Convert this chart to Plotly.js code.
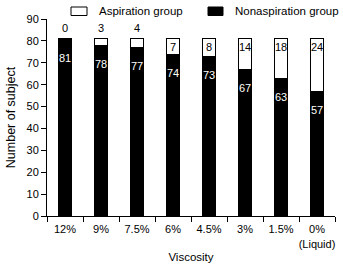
<!DOCTYPE html>
<html><head>
<script src="https://cdn.plot.ly/plotly-3.0.1.min.js"></script>
<style>body{margin:0;background:#fff}</style>
</head>
<body>
<div id="chart" style="width:343px;height:266px"></div>
<script>
const categories = ['12%', '9%', '7.5%', '6%', '4.5%', '3%', '1.5%', '0%<br>(Liquid)'];
const aspiration = [0, 3, 4, 7, 8, 14, 18, 24];
const nonaspiration = [81, 78, 77, 74, 73, 67, 63, 57];
const yTickVals = [0, 10, 20, 30, 40, 50, 60, 70, 80, 90];
const legendNames = ['Aspiration group', 'Nonaspiration group'];
const legendFills = ['#fff', '#000'];

const FONT = 'Liberation Sans, Arial, sans-serif';
const W = 343, H = 266;
const M = {l: 47, r: 8, t: 19, b: 50};
const plotW = W - M.l - M.r, plotH = H - M.t - M.b;
const yMax = 90;
const px2x = px => (px - M.l) / plotW;
const px2y = py => (H - M.b - py) / plotH;

const traces = [
  {
    type: 'bar', name: legendNames[1], x: categories, y: nonaspiration,
    marker: {color: legendFills[1], line: {color: '#000', width: 1}}, width: 0.37,
    hoverinfo: 'skip'
  },
  {
    type: 'bar', name: legendNames[0], x: categories, y: aspiration,
    marker: {color: legendFills[0], line: {color: '#000', width: 1}}, width: 0.37,
    hoverinfo: 'skip'
  }
];

const annotations = [];
categories.forEach((c, i) => {
  annotations.push({
    x: c, y: nonaspiration[i], xref: 'x', yref: 'y', text: String(nonaspiration[i]),
    showarrow: false, yanchor: 'top', yshift: -11,
    font: {family: FONT, size: 11, color: '#fff'}
  });
  const top = nonaspiration[i] + aspiration[i];
  const fits = aspiration[i] * plotH / yMax >= 12;
  annotations.push({
    x: c, y: top, xref: 'x', yref: 'y', text: String(aspiration[i]),
    showarrow: false, yanchor: fits ? 'top' : 'bottom', yshift: fits ? 0 : 3,
    font: {family: FONT, size: 11, color: '#000'}
  });
});

// manual legend (rectangles + labels)
const legendBoxes = [[71, 87], [208, 223]];
const legendTextX = [97, 233];
const shapes = [];
legendNames.forEach((n, k) => {
  shapes.push({
    type: 'rect', xref: 'paper', yref: 'paper',
    x0: px2x(legendBoxes[k][0]), x1: px2x(legendBoxes[k][1]),
    y0: px2y(15.5), y1: px2y(7),
    fillcolor: legendFills[k], line: {color: '#000', width: 1}
  });
  annotations.push({
    xref: 'paper', yref: 'paper', x: px2x(legendTextX[k]), y: px2y(11.5),
    xanchor: 'left', yanchor: 'middle', showarrow: false, text: n,
    font: {family: FONT, size: 11.5, color: '#000'}
  });
});

const layout = {
  width: W, height: H,
  margin: M,
  paper_bgcolor: '#fff', plot_bgcolor: '#fff',
  barmode: 'stack',
  font: {family: FONT, size: 11, color: '#000'},
  showlegend: false,
  xaxis: {
    type: 'category', showline: true, linecolor: '#000', linewidth: 1,
    ticks: 'outside', tickson: 'boundaries', ticklen: 5, tickcolor: '#000',
    tickangle: 0, automargin: false, ticklabelstandoff: 3,
    showgrid: false, zeroline: false,
    tickfont: {family: FONT, size: 11, color: '#000'},
    title: {text: 'Viscosity', font: {family: FONT, size: 11.5, color: '#000'}, standoff: 4}
  },
  yaxis: {
    range: [0, yMax], tickvals: yTickVals, showline: true, linecolor: '#000', linewidth: 1,
    ticks: 'outside', ticklen: 5, tickcolor: '#000', showgrid: false, zeroline: false,
    automargin: false,
    tickfont: {family: FONT, size: 11, color: '#000'},
    title: {text: 'Number of subject', font: {family: FONT, size: 12.5, color: '#000'}, standoff: 8}
  },
  shapes: shapes,
  annotations: annotations
};

Plotly.newPlot('chart', traces, layout, {displayModeBar: false, staticPlot: true});
</script>
</body></html>
